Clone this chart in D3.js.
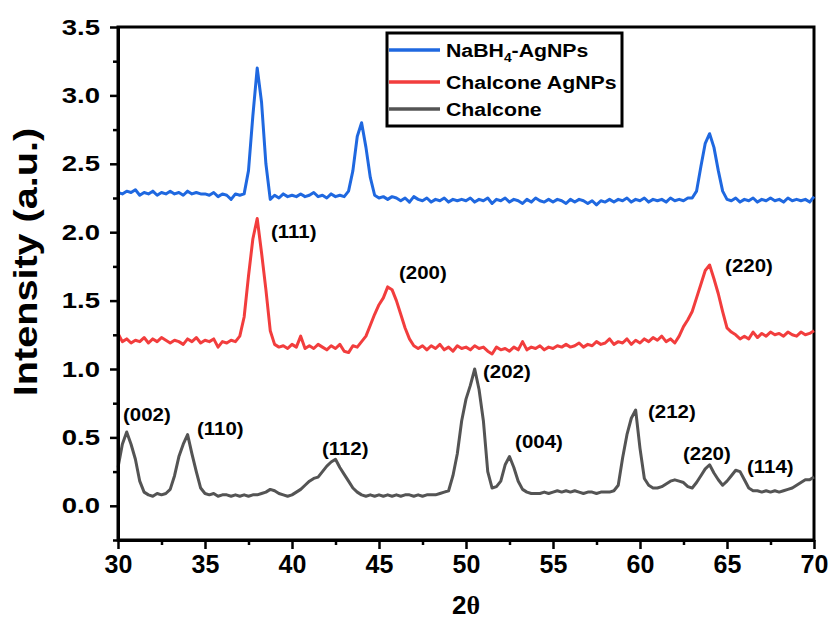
<!DOCTYPE html>
<html>
<head>
<meta charset="utf-8">
<script src="https://cdn.jsdelivr.net/npm/d3@7"></script>
<style>
body { margin: 0; background: #fff; }
text { font-family: "Liberation Sans", Arial, sans-serif; font-weight: bold; fill: #000; }
</style>
</head>
<body>
<svg id="chart"></svg>
<script>
// 2theta grid (deg), step 0.25
const twoTheta = [
  30, 30.25, 30.5, 30.75, 31, 31.25, 31.5, 31.75, 32, 32.25, 32.5, 32.75, 33, 33.25, 33.5, 33.75, 34, 34.25, 34.5, 34.75,
  35, 35.25, 35.5, 35.75, 36, 36.25, 36.5, 36.75, 37, 37.25, 37.5, 37.75, 38, 38.25, 38.5, 38.75, 39, 39.25, 39.5, 39.75,
  40, 40.25, 40.5, 40.75, 41, 41.25, 41.5, 41.75, 42, 42.25, 42.5, 42.75, 43, 43.25, 43.5, 43.75, 44, 44.25, 44.5, 44.75,
  45, 45.25, 45.5, 45.75, 46, 46.25, 46.5, 46.75, 47, 47.25, 47.5, 47.75, 48, 48.25, 48.5, 48.75, 49, 49.25, 49.5, 49.75,
  50, 50.25, 50.5, 50.75, 51, 51.25, 51.5, 51.75, 52, 52.25, 52.5, 52.75, 53, 53.25, 53.5, 53.75, 54, 54.25, 54.5, 54.75,
  55, 55.25, 55.5, 55.75, 56, 56.25, 56.5, 56.75, 57, 57.25, 57.5, 57.75, 58, 58.25, 58.5, 58.75, 59, 59.25, 59.5, 59.75,
  60, 60.25, 60.5, 60.75, 61, 61.25, 61.5, 61.75, 62, 62.25, 62.5, 62.75, 63, 63.25, 63.5, 63.75, 64, 64.25, 64.5, 64.75,
  65, 65.25, 65.5, 65.75, 66, 66.25, 66.5, 66.75, 67, 67.25, 67.5, 67.75, 68, 68.25, 68.5, 68.75, 69, 69.25, 69.5, 69.75,
  70
];

const nabh4AgNPs = [
  2.29,2.28,2.30,2.29,2.31,2.27,2.29,2.28,2.30,2.27,2.29,2.28,2.30,2.28,2.29,2.27,2.30,2.28,2.29,2.28,
  2.28,2.27,2.29,2.26,2.28,2.27,2.24,2.28,2.27,2.28,2.45,2.85,3.20,2.95,2.50,2.24,2.27,2.25,2.28,2.26,
  2.27,2.26,2.28,2.26,2.27,2.29,2.26,2.27,2.25,2.28,2.26,2.27,2.26,2.30,2.45,2.70,2.80,2.62,2.40,2.27,
  2.25,2.26,2.24,2.26,2.25,2.23,2.25,2.22,2.26,2.24,2.23,2.25,2.22,2.24,2.23,2.25,2.22,2.24,2.23,2.24,
  2.23,2.25,2.22,2.24,2.23,2.25,2.21,2.24,2.23,2.25,2.22,2.24,2.23,2.21,2.24,2.22,2.25,2.23,2.22,2.24,
  2.22,2.24,2.23,2.21,2.24,2.22,2.24,2.23,2.21,2.23,2.20,2.23,2.22,2.24,2.22,2.24,2.23,2.25,2.22,2.24,
  2.23,2.25,2.22,2.24,2.23,2.24,2.22,2.25,2.23,2.24,2.23,2.25,2.25,2.30,2.48,2.65,2.72,2.62,2.45,2.30,
  2.24,2.23,2.25,2.22,2.24,2.23,2.25,2.22,2.24,2.23,2.25,2.23,2.24,2.22,2.25,2.23,2.24,2.23,2.24,2.22,
  2.26
];

const chalconeAgNPs = [
  1.26,1.20,1.22,1.19,1.21,1.20,1.23,1.19,1.22,1.20,1.23,1.21,1.19,1.21,1.20,1.18,1.22,1.20,1.23,1.19,
  1.21,1.20,1.22,1.16,1.20,1.19,1.21,1.20,1.24,1.38,1.68,1.95,2.10,1.85,1.58,1.28,1.18,1.16,1.17,1.15,
  1.18,1.16,1.24,1.15,1.17,1.15,1.18,1.16,1.14,1.17,1.15,1.18,1.13,1.12,1.17,1.16,1.20,1.24,1.32,1.40,
  1.47,1.52,1.60,1.58,1.50,1.40,1.30,1.22,1.17,1.15,1.17,1.14,1.17,1.15,1.18,1.14,1.16,1.13,1.17,1.15,
  1.16,1.14,1.17,1.15,1.16,1.13,1.11,1.16,1.14,1.15,1.13,1.16,1.14,1.20,1.14,1.16,1.15,1.17,1.14,1.16,
  1.15,1.17,1.16,1.18,1.16,1.17,1.19,1.16,1.18,1.17,1.20,1.18,1.19,1.22,1.18,1.20,1.19,1.22,1.18,1.21,
  1.19,1.22,1.20,1.23,1.21,1.24,1.20,1.22,1.19,1.24,1.31,1.36,1.42,1.52,1.62,1.72,1.76,1.66,1.55,1.42,
  1.30,1.27,1.25,1.22,1.24,1.22,1.27,1.23,1.26,1.24,1.27,1.25,1.26,1.24,1.27,1.25,1.24,1.27,1.25,1.26,
  1.28
];

const chalcone = [
  0.28,0.45,0.54,0.45,0.34,0.18,0.10,0.08,0.07,0.09,0.08,0.09,0.12,0.22,0.36,0.45,0.52,0.38,0.25,0.13,
  0.09,0.08,0.09,0.07,0.08,0.08,0.07,0.08,0.07,0.08,0.07,0.08,0.08,0.09,0.10,0.12,0.11,0.09,0.08,0.07,
  0.08,0.10,0.12,0.15,0.18,0.20,0.21,0.25,0.29,0.32,0.34,0.28,0.23,0.18,0.13,0.10,0.08,0.07,0.08,0.07,
  0.08,0.07,0.08,0.07,0.08,0.07,0.08,0.08,0.07,0.08,0.07,0.08,0.08,0.08,0.09,0.10,0.11,0.22,0.38,0.62,
  0.78,0.88,1.00,0.85,0.62,0.25,0.13,0.14,0.18,0.30,0.36,0.28,0.18,0.12,0.10,0.09,0.09,0.09,0.10,0.09,
  0.10,0.11,0.10,0.11,0.10,0.11,0.10,0.09,0.10,0.10,0.09,0.10,0.10,0.10,0.11,0.15,0.35,0.52,0.64,0.70,
  0.42,0.20,0.15,0.13,0.13,0.14,0.16,0.18,0.19,0.18,0.17,0.14,0.13,0.17,0.22,0.27,0.30,0.24,0.19,0.15,
  0.18,0.22,0.26,0.25,0.19,0.13,0.11,0.11,0.10,0.11,0.10,0.11,0.10,0.11,0.12,0.13,0.15,0.17,0.19,0.19,
  0.21
];

const seriesNames = ['NaBH4-AgNPs', 'Chalcone AgNPs', 'Chalcone'];
const seriesColors = ['#1f68e0', '#f23d3d', '#545454'];

// peak annotations: label, 2theta and intensity where the label starts
const peakLabels = ['(111)', '(200)', '(220)', '(002)', '(110)', '(112)', '(202)', '(004)', '(212)', '(220)', '(114)'];
const peakLabelX = [38.79, 46.15, 64.89, 30.29, 34.54, 41.72, 50.98, 52.82, 60.46, 62.47, 66.15];
const peakLabelY = [1.958, 1.659, 1.710, 0.621, 0.519, 0.373, 0.935, 0.424, 0.643, 0.336, 0.241];

const xTicks = [30, 35, 40, 45, 50, 55, 60, 65, 70];
const xMinor = [32.5, 37.5, 42.5, 47.5, 52.5, 57.5, 62.5, 67.5];
const yTicks = [0, 0.5, 1.0, 1.5, 2.0, 2.5, 3.0, 3.5];
const yMinor = [-0.25, 0.25, 0.75, 1.25, 1.75, 2.25, 2.75, 3.25];

let width = 829;
let height = 637;

const svg = d3.select('#chart').attr('width', width).attr('height', height);

const xScale = d3.scaleLinear().domain([30, 70]).range([118, 814]);
const yScale = d3.scaleLinear().domain([-0.25, 3.5]).range([540, 27]);

// frame
svg.append('rect')
  .attr('x', xScale(30)).attr('y', yScale(3.5))
  .attr('width', xScale(70) - xScale(30)).attr('height', yScale(-0.25) - yScale(3.5))
  .attr('fill', 'none').attr('stroke', '#000').attr('stroke-width', 3);

// curves
const allSeries = [nabh4AgNPs, chalconeAgNPs, chalcone];
const line = d3.line().x((d, i) => xScale(twoTheta[i])).y(d => yScale(d));
allSeries.forEach((s, k) => {
  svg.append('path').datum(s)
    .attr('d', line)
    .attr('fill', 'none')
    .attr('stroke', seriesColors[k])
    .attr('stroke-width', 3)
    .attr('stroke-linejoin', 'round');
});

// axes
const styleAxis = (g) => {
  g.attr('font-family', null).attr('font-size', null);
  g.select('.domain').attr('stroke-width', 3);
  g.selectAll('.tick line').attr('stroke-width', 2.5);
};

const xAxis = d3.axisBottom(xScale).tickValues(xTicks).tickFormat(d3.format('d')).tickSize(9).tickSizeOuter(0).tickPadding(6);
const gx = svg.append('g').attr('transform', 'translate(0,' + yScale(-0.25) + ')').call(xAxis).call(styleAxis);
gx.selectAll('.tick text').attr('font-size', 25).attr('dy', '0.71em');

const xMinorAxis = d3.axisBottom(xScale).tickValues(xMinor).tickFormat('').tickSize(5).tickSizeOuter(0);
svg.append('g').attr('transform', 'translate(0,' + yScale(-0.25) + ')').call(xMinorAxis).call(styleAxis)
  .select('.domain').remove();

const yAxis = d3.axisLeft(yScale).tickValues(yTicks).tickFormat(d3.format('.1f')).tickSize(8).tickSizeOuter(0).tickPadding(10);
const gy = svg.append('g').attr('transform', 'translate(' + xScale(30) + ',0)').call(yAxis).call(styleAxis);
gy.selectAll('.tick text').attr('font-size', 22).attr('transform', 'scale(1.25,1)').attr('x', -18 / 1.25);

const yMinorAxis = d3.axisLeft(yScale).tickValues(yMinor).tickFormat('').tickSize(5).tickSizeOuter(0);
svg.append('g').attr('transform', 'translate(' + xScale(30) + ',0)').call(yMinorAxis).call(styleAxis)
  .select('.domain').remove();

// axis titles
svg.append('text')
  .attr('transform', 'translate(37,262) rotate(-90) scale(1.2,1)')
  .attr('text-anchor', 'middle')
  .attr('font-size', 33)
  .text('Intensity (a.u.)');

const xTitle = svg.append('text')
  .attr('x', (xScale(30) + xScale(70)) / 2).attr('y', 614)
  .attr('text-anchor', 'middle')
  .attr('font-size', 26);
xTitle.append('tspan').text('2');
xTitle.append('tspan').attr('font-family', '"Liberation Serif", "Times New Roman", serif').text('θ');

// peak labels
svg.selectAll('.peak').data(peakLabels).enter().append('text')
  .attr('class', 'peak')
  .attr('transform', (d, i) => 'translate(' + xScale(peakLabelX[i]) + ',' + yScale(peakLabelY[i]) + ') scale(1.17,1)')
  .attr('font-size', 17.5)
  .text(d => d);

// legend
const legend = svg.append('g');
legend.append('rect')
  .attr('x', 387).attr('y', 33).attr('width', 235).attr('height', 93)
  .attr('fill', '#fff').attr('stroke', '#000').attr('stroke-width', 3);
const legendY = [50, 82, 109];
seriesNames.forEach((name, k) => {
  legend.append('line')
    .attr('x1', 389).attr('x2', 440)
    .attr('y1', legendY[k]).attr('y2', legendY[k])
    .attr('stroke', seriesColors[k]).attr('stroke-width', 3.5);
  const t = legend.append('text')
    .attr('transform', 'translate(446,' + (legendY[k] + 6.5) + ') scale(1.15,1)')
    .attr('font-size', 18.5);
  if (name.indexOf('NaBH4') === 0) {
    t.append('tspan').text('NaBH');
    t.append('tspan').attr('font-size', 12).attr('dy', 5).text('4');
    t.append('tspan').attr('dy', -5).text('-AgNPs');
  } else {
    t.text(name);
  }
});
</script>
</body>
</html>
